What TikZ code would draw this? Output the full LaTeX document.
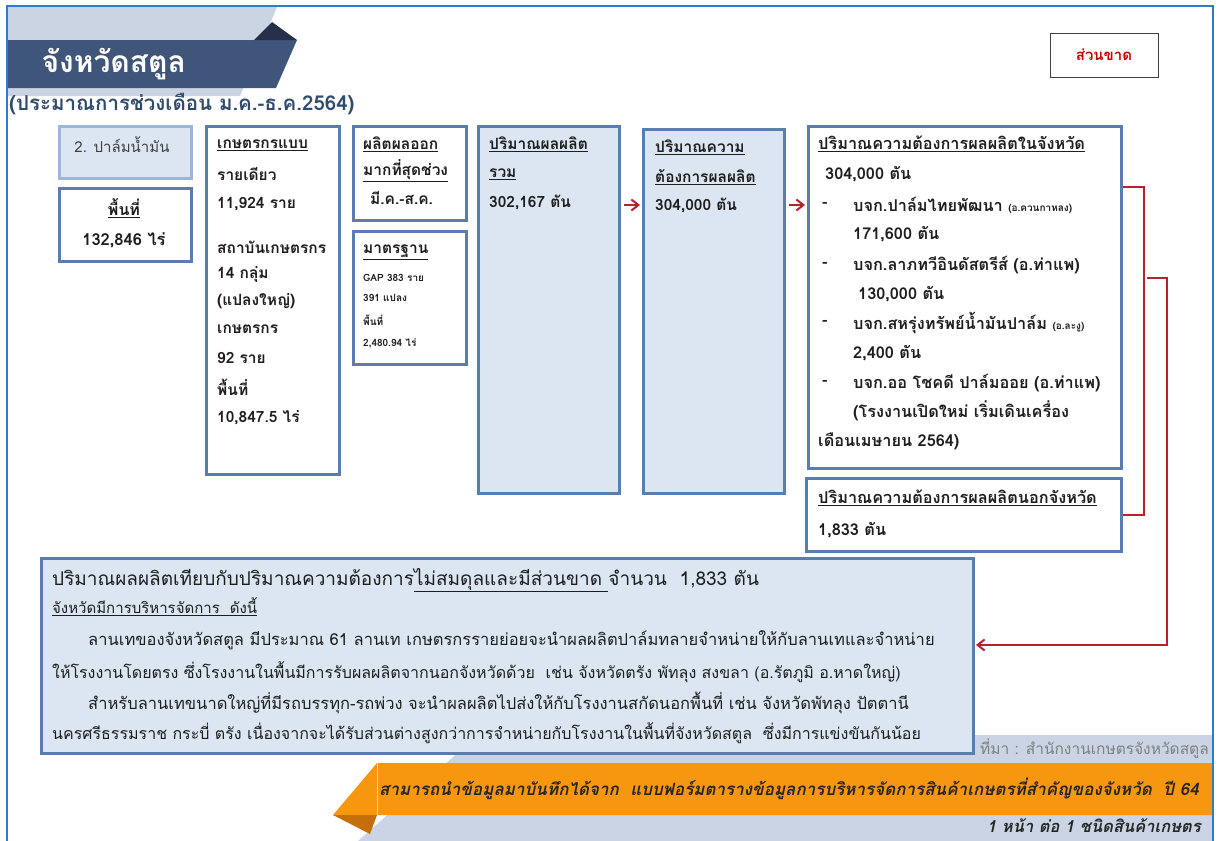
\documentclass[tikz,border=0pt]{standalone}
\usepackage{fontspec}
\setmainfont[Script=Thai]{Loma}
\usepackage{tikz}
\usetikzlibrary{arrows.meta}
\definecolor{frameblue}{HTML}{2E7AD6}
\definecolor{boxline}{HTML}{5A7DB0}
\definecolor{boxfill}{HTML}{DCE6F2}
\definecolor{cropline}{HTML}{9DB5D6}
\definecolor{linkred}{HTML}{B8202C}
\definecolor{headdark}{HTML}{3F5579}
\definecolor{headfold}{HTML}{25314A}
\definecolor{headlight}{HTML}{CBD4E3}
\definecolor{subtitle}{HTML}{2F4B6E}
\definecolor{banner}{HTML}{F7970F}
\definecolor{bannerfold}{HTML}{C46E0C}
\definecolor{panel}{HTML}{CAD4E5}
\definecolor{ink}{HTML}{1E1E1E}
\newcommand{\sml}[1]{{\fontsize{10}{12}\selectfont #1}}

\begin{document}
\begin{tikzpicture}[x=1pt,y=-1pt,
    box/.style={draw=boxline, line width=3pt, fill=white, anchor=north west, inner sep=0pt},
    shaded/.style={box, fill=boxfill},
    txt/.style={anchor=west, inner sep=0pt, text=ink, font=\fontsize{15.5}{18}\selectfont\bfseries},
    wide/.style={txt, font=\fontsize{16.3}{19}\selectfont\bfseries},
    tiny/.style={txt, font=\fontsize{10}{12}\selectfont\bfseries},
    body/.style={txt, font=\fontsize{16}{19}\selectfont},
    link/.style={draw=linkred, line width=2pt},
    linkarrow/.style={link, -{Straight Barb[length=7pt,width=11pt]}}]
    \useasboundingbox (0,0) rectangle (1219,841);

    % Header band
    \fill[headlight] (7,7) -- (277,7) -- (240,96) -- (7,96) -- cycle;
    \fill[headdark] (7,40) -- (297,40) -- (276,88) -- (7,88) -- cycle;
    \fill[headfold] (254,40) -- (272,22) -- (297,40) -- cycle;
    \node[anchor=west, text=white, font=\fontsize{30}{34}\selectfont\bfseries] (title) at (38,64) {จังหวัดสตูล};
    \node[anchor=west, inner sep=0pt, text=subtitle, font=\fontsize{20.5}{24}\selectfont\bfseries] (period) at (9,104) {(ประมาณการช่วงเดือน ม.ค.-ธ.ค.2564)};

    % Deficit tag
    \node[draw=black!75, line width=1pt, fill=white, minimum width=108pt, minimum height=44pt,
          text=red!80!black, font=\fontsize{15}{17}\selectfont\bfseries] (deficit) at (1104,55) {ส่วนขาด};

    % Bottom panel and banner
    \fill[panel] (478,735) -- (1213,735) -- (1213,841) -- (358,841) -- cycle;
    \fill[banner] (377,763) -- (1213,763) -- (1213,815) -- (333,815) -- cycle;
    \fill[bannerfold] (333,815) -- (370,834) -- (377,815) -- cycle;
    \draw[banner!40!white, line width=0.6pt] (377,763) -- (377,815);
    \node[anchor=west, inner sep=0pt, text=black!85, font=\fontsize{17}{20}\selectfont\bfseries\itshape] (note) at (379,789)
        {สามารถนำข้อมูลมาบันทึกได้จาก\ \ แบบฟอร์มตารางข้อมูลการบริหารจัดการสินค้าเกษตรที่สำคัญของจังหวัด\ \ ปี 64};
    \node[anchor=east, inner sep=0pt, text=black!85, font=\fontsize{16.5}{19}\selectfont\bfseries\itshape] (perpage) at (1201,826)
        {1 หน้า ต่อ 1 ชนิดสินค้าเกษตร};
    \node[anchor=east, inner sep=0pt, text=black!50, font=\fontsize{15.5}{18}\selectfont] (source) at (1209,749)
        {ที่มา : สำนักงานเกษตรจังหวัดสตูล};

    % Crop and area
    \node[shaded, draw=cropline, minimum width=132pt, minimum height=52pt] (crop) at (58,125) {};
    \node[inner sep=0pt, text=black!75, font=\fontsize{15}{18}\selectfont] (croptext) at (122,145) {2. ปาล์มน้ำมัน};
    \node[box, minimum width=132pt, minimum height=73pt] (area) at (58,187) {};
    \node[inner sep=0pt, text=ink, font=\fontsize{16}{18}\selectfont\bfseries] (areahead) at (124,208) {\underline{พื้นที่}};
    \node[inner sep=0pt, text=ink, font=\fontsize{16.5}{18}\selectfont\bfseries] (areaval) at (124,240) {132,846 ไร่};

    % Farmers
    \node[box, minimum width=133pt, minimum height=348pt] (farmer) at (205,125) {};
    \foreach \y/\t [count=\k] in {145/{\underline{เกษตรกรแบบ}}, 174/รายเดียว, 204/{11,924 ราย},
        247/สถาบันเกษตรกร, 275/{14 กลุ่ม}, 301/(แปลงใหญ่), 329/เกษตรกร, 358/{92 ราย},
        387/พื้นที่, 418/{10,847.5 ไร่}}
        \node[txt] (fa\k) at (217,\y) {\t};

    % Peak season and standard
    \node[box, minimum width=113pt, minimum height=94pt] (peak) at (352,125) {};
    \node[txt] (pk1) at (363,144) {\underline{ผลิตผลออก}};
    \node[txt] (pk2) at (363,171) {\underline{มากที่สุดช่วง}};
    \node[txt] (pk3) at (370,198) {มี.ค.-ส.ค.};
    \node[box, minimum width=113pt, minimum height=133pt] (std) at (352,230) {};
    \node[txt] (st1) at (363,252) {\underline{มาตรฐาน}};
    \foreach \y/\t [count=\k] in {278/{GAP 383 ราย}, 298/{391 แปลง}, 320/พื้นที่, 343/{2,480.94 ไร่}}
        \node[tiny] (st\k x) at (363,\y) {\t};

    % Total output and demand
    \node[shaded, minimum width=141pt, minimum height=367pt] (total) at (477,125) {};
    \node[txt] (to1) at (489,144) {\underline{ปริมาณผลผลิต}};
    \node[txt] (to2) at (489,174) {\underline{รวม}};
    \node[txt] (to3) at (489,202) {302,167 ตัน};
    \node[shaded, minimum width=141pt, minimum height=364pt] (demand) at (642,128) {};
    \node[txt] (de1) at (655,147) {\underline{ปริมาณความ}};
    \node[txt] (de2) at (655,177) {\underline{ต้องการผลผลิต}};
    \node[txt] (de3) at (655,205) {304,000 ตัน};

    % Demand inside the province
    \node[box, minimum width=313pt, minimum height=342pt] (inprov) at (807,125) {};
    \foreach \x/\y/\t [count=\k] in {818/144/{\underline{ปริมาณความต้องการผลผลิตในจังหวัด}},
        825/174/{304,000 ตัน},
        822/205/-, 853/205/{บจก.ปาล์มไทยพัฒนา \sml{(อ.ควนกาหลง)}}, 853/234/{171,600 ตัน},
        822/265/-, 853/265/{บจก.ลาภทวีอินดัสตรีส์ (อ.ท่าแพ)}, 858/294/{130,000 ตัน},
        822/323/-, 853/323/{บจก.สหรุ่งทรัพย์น้ำมันปาล์ม \sml{(อ.ละงู)}}, 853/353/{2,400 ตัน},
        822/383/-, 853/383/{บจก.ออ โชคดี ปาล์มออย (อ.ท่าแพ)},
        853/411/{(โรงงานเปิดใหม่ เริ่มเดินเครื่อง}, 818/441/{เดือนเมษายน 2564)}}
        \node[wide] (ip\k) at (\x,\y) {\t};

    % Demand outside the province
    \node[box, minimum width=315pt, minimum height=73pt] (outprov) at (805,477) {};
    \node[wide] (op1) at (818,498) {\underline{ปริมาณความต้องการผลผลิตนอกจังหวัด}};
    \node[wide] (op2) at (818,530) {1,833 ตัน};

    % Summary
    \node[shaded, minimum width=932pt, minimum height=195pt] (summary) at (40,557) {};
    \node[body, font=\fontsize{19}{22}\selectfont] (su1) at (52,580)
        {ปริมาณผลผลิตเทียบกับปริมาณความต้องการ\underline{ไม่สมดุลและมีส่วนขาด\ }จำนวน\ \ 1,833 ตัน};
    \node[body, font=\fontsize{15}{18}\selectfont] (su2) at (52,607) {\underline{จังหวัดมีการบริหารจัดการ\ \ ดังนี้}};
    \node[body, font=\fontsize{16.5}{19}\selectfont] (su3) at (88,640) {ลานเทของจังหวัดสตูล มีประมาณ 61 ลานเท เกษตรกรรายย่อยจะนำผลผลิตปาล์มทลายจำหน่ายให้กับลานเทและจำหน่าย};
    \node[body] (su4) at (52,672) {ให้โรงงานโดยตรง ซึ่งโรงงานในพื้นมีการรับผลผลิตจากนอกจังหวัดด้วย\ \ เช่น จังหวัดตรัง พัทลุง สงขลา (อ.รัตภูมิ อ.หาดใหญ่)};
    \node[body, font=\fontsize{16.5}{19}\selectfont] (su5) at (88,703) {สำหรับลานเทขนาดใหญ่ที่มีรถบรรทุก-รถพ่วง จะนำผลผลิตไปส่งให้กับโรงงานสกัดนอกพื้นที่ เช่น จังหวัดพัทลุง ปัตตานี};
    \node[body] (su6) at (52,733) {นครศรีธรรมราช กระบี่ ตรัง เนื่องจากจะได้รับส่วนต่างสูงกว่าการจำหน่ายกับโรงงานในพื้นที่จังหวัดสตูล\ \ ซึ่งมีการแข่งขันกันน้อย};

    % Links
    \coordinate (row) at (0,205);
    \draw[linkarrow, shorten <=3pt, shorten >=2pt] (total.east |- row) -- (demand.west |- row);
    \draw[linkarrow, shorten <=3pt, shorten >=2pt] (demand.east |- row) -- (inprov.west |- row);
    \coordinate (top) at (0,187);
    \draw[link] (inprov.east |- top) -- ++(21,0) |- (outprov.east);
    \coordinate (split) at (1147,278);
    \coordinate (low) at (0,645);
    \draw[linkarrow, shorten >=1pt] (split) -- ++(20,0) |- (summary.east |- low);

    % Outer frame
    \draw[frameblue, line width=2.5pt] (7,841) -- (7,6) -- (1213,6) -- (1213,841);
\end{tikzpicture}
\end{document}
